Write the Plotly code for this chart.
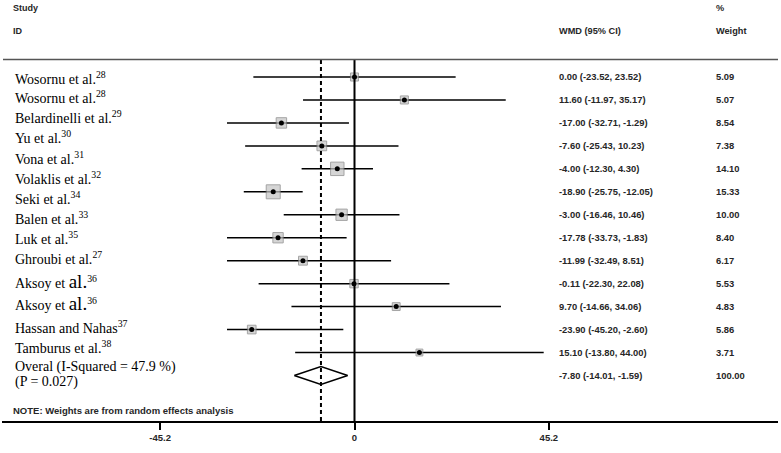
import numpy as np
import plotly.graph_objects as go

# --------------------------------------------------
# Data
# --------------------------------------------------

STUDIES = [
    "Wosornu et al.<sup>28</sup>",
    "Wosornu et al.<sup>28</sup>",
    "Belardinelli et al.<sup>29</sup>",
    "Yu et al.<sup>30</sup>",
    "Vona et al.<sup>31</sup>",
    "Volaklis et al.<sup>32</sup>",
    "Seki et al.<sup>34</sup>",
    "Balen et al.<sup>33</sup>",
    "Luk et al.<sup>35</sup>",
    "Ghroubi et al.<sup>27</sup>",
    "Aksoy et <span style='font-size:19px'>al.</span><sup>36</sup>",
    "Aksoy et <span style='font-size:19px'>al.</span><sup>36</sup>",
    "Hassan and Nahas<sup>37</sup>",
    "Tamburus et al.<sup>38</sup>",
]
OVERALL_LABEL = ["Overal (I-Squared = 47.9 %)", "(P = 0.027)"]

WMD = [0.00, 11.60, -17.00, -7.60, -4.00, -18.90, -3.00,
       -17.78, -11.99, -0.11, 9.70, -23.90, 15.10]
CI_LOW = [-23.52, -11.97, -32.71, -25.43, -12.30, -25.75, -16.46,
          -33.73, -32.49, -22.30, -14.66, -45.20, -13.80]
CI_HIGH = [23.52, 35.17, -1.29, 10.23, 4.30, -12.05, 10.46,
           -1.83, 8.51, 22.08, 34.06, -2.60, 44.00]
WEIGHTS = [5.09, 5.07, 8.54, 7.38, 14.10, 15.33, 10.00,
           8.40, 6.17, 5.53, 4.83, 5.86, 3.71]

OVERALL = -7.80
OVERALL_LOW = -14.01
OVERALL_HIGH = -1.59
OVERALL_WEIGHT = 100.00

X_TICKS = [-45.2, 0, 45.2]

# --------------------------------------------------
# Layout (pixels)
# --------------------------------------------------

W, H = 781, 453
PLOT_L, PLOT_R, PLOT_B = 2, 778, 421
X0_PX, PX_PER_UNIT = 354.5, 4.3
ROW0_PX, ROW_STEP = 77, 22.96
LEFT_CLIP = -29.65          # CI lines are cut at this value in the original
BOX_MAX = 14

LABEL_Y = [78, 97, 117, 137, 158, 178, 198, 218, 238, 258, 281, 303, 327, 347]
OVERALL_LABEL_Y = [367, 382]
HEADER_Y = 59.5

SERIF = "Liberation Serif"
SANS = "Liberation Sans"
SANS_BOLD = dict(family=SANS, weight="bold")
TEXT_GREY = "#262626"


def px_x(px):
    return (px - PLOT_L) / (PLOT_R - PLOT_L)


def px_y(px):
    return 1 - px / PLOT_B


rows = np.arange(len(WMD))
overall_row = len(WMD)

fig = go.Figure()

# confidence interval lines
xs, ys = [], []
for r, lo, hi in zip(rows, CI_LOW, CI_HIGH):
    xs += [max(lo, LEFT_CLIP), hi, None]
    ys += [r, r, None]
fig.add_trace(go.Scatter(
    x=xs, y=ys, mode="lines",
    line=dict(color="black", width=1.5),
    hoverinfo="skip"
))

# weight boxes
w = np.array(WEIGHTS)
fig.add_trace(go.Scatter(
    x=WMD, y=rows, mode="markers",
    marker=dict(
        symbol="square",
        size=BOX_MAX * np.sqrt(w / w.max()),
        color="#c4c4c4",
        line=dict(color="#7f7f7f", width=1)
    ),
    hoverinfo="skip"
))

# point estimates
fig.add_trace(go.Scatter(
    x=WMD, y=rows, mode="markers",
    marker=dict(symbol="circle", size=5, color="black"),
    hoverinfo="skip"
))

# overall diamond
h = 9 / ROW_STEP
fig.add_trace(go.Scatter(
    x=[OVERALL_LOW, OVERALL, OVERALL_HIGH, OVERALL, OVERALL_LOW],
    y=[overall_row, overall_row - h, overall_row, overall_row + h, overall_row],
    mode="lines",
    line=dict(color="black", width=1.5),
    hoverinfo="skip"
))

# reference lines and header rule
shapes = [
    dict(type="line", xref="x", yref="paper", x0=0, x1=0,
         y0=0, y1=px_y(HEADER_Y), line=dict(color="black", width=2)),
    dict(type="line", xref="x", yref="paper", x0=OVERALL, x1=OVERALL,
         y0=0, y1=px_y(HEADER_Y), line=dict(color="black", width=2, dash="4px,3px")),
    dict(type="line", xref="paper", yref="paper", x0=px_x(3), x1=1,
         y0=px_y(HEADER_Y), y1=px_y(HEADER_Y), line=dict(color="#555555", width=1.5)),
]

annotations = []


def add_text(text, x, y, font, size, color="black"):
    annotations.append(dict(
        text=text, xref="paper", yref="paper",
        x=px_x(x), y=px_y(y), xanchor="left", yanchor="middle",
        showarrow=False, font=dict(size=size, color=color, **font)
    ))


# headers
add_text("Study", 11, 8, SANS_BOLD, 9, TEXT_GREY)
add_text("ID", 11, 31, SANS_BOLD, 9, TEXT_GREY)
add_text("WMD (95% CI)", 557, 31, SANS_BOLD, 9.2, TEXT_GREY)
add_text("%", 714, 8, SANS_BOLD, 9.2, TEXT_GREY)
add_text("Weight", 714, 31, SANS_BOLD, 9.2, TEXT_GREY)

# study labels
serif = dict(family=SERIF)
for label, y in zip(STUDIES, LABEL_Y):
    add_text(label, 13, y, serif, 14)
for label, y in zip(OVERALL_LABEL, OVERALL_LABEL_Y):
    add_text(label, 13, y, serif, 14)

# estimate and weight columns
for r, est, lo, hi, wt in zip(rows, WMD, CI_LOW, CI_HIGH, WEIGHTS):
    y = ROW0_PX + ROW_STEP * r
    add_text(f"{est:.2f} ({lo:.2f}, {hi:.2f})", 557, y, SANS_BOLD, 9.4, TEXT_GREY)
    add_text(f"{wt:.2f}", 714, y, SANS_BOLD, 9.4, TEXT_GREY)
y = ROW0_PX + ROW_STEP * overall_row
add_text(f"{OVERALL:.2f} ({OVERALL_LOW:.2f}, {OVERALL_HIGH:.2f})", 557, y, SANS_BOLD, 9.4, TEXT_GREY)
add_text(f"{OVERALL_WEIGHT:.2f}", 714, y, SANS_BOLD, 9.4, TEXT_GREY)

add_text("NOTE: Weights are from random effects analysis", 11, 410, SANS_BOLD, 9.5, TEXT_GREY)

fig.update_layout(
    width=W,
    height=H,
    margin=dict(l=PLOT_L, r=W - PLOT_R, t=0, b=H - PLOT_B),
    plot_bgcolor="white",
    paper_bgcolor="white",
    showlegend=False,
    shapes=shapes,
    annotations=annotations,
    xaxis=dict(
        range=[(PLOT_L - X0_PX) / PX_PER_UNIT, (PLOT_R - X0_PX) / PX_PER_UNIT],
        showgrid=False,
        zeroline=False,
        showline=True,
        linecolor="black",
        linewidth=1.5,
        ticks="outside",
        ticklen=7,
        tickwidth=2,
        tickcolor="black",
        tickvals=X_TICKS,
        ticktext=[f"{t:g}" for t in X_TICKS],
        tickfont=dict(family=SANS, size=9.5, color=TEXT_GREY, weight="bold"),
        automargin=False
    ),
    yaxis=dict(
        range=[(PLOT_B - ROW0_PX) / ROW_STEP, -ROW0_PX / ROW_STEP],
        visible=False
    )
)

# the page body has a default 8px margin; remove it so the chart sits at 0,0
fig.write_html(
    "out.html",
    config={"displayModeBar": False},
    post_script="document.body.style.margin='0';"
)
